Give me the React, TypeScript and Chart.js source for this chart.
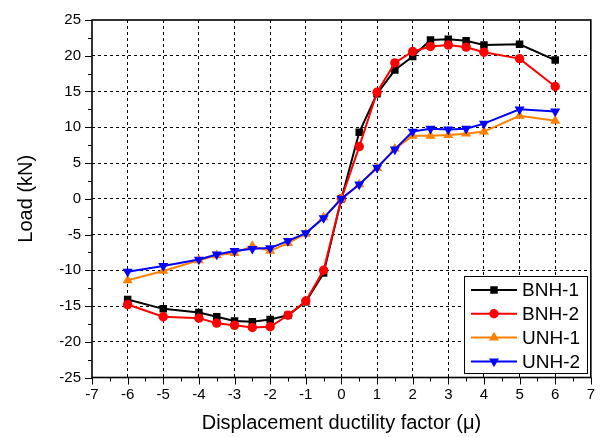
import React, { useEffect, useRef } from "react";
import { Chart, registerables } from "chart.js";

Chart.register(...registerables);

// Displacement ductility factor steps
const ductility = [-6, -5, -4, -3.5, -3, -2.5, -2, -1.5, -1, -0.5, 0, 0.5, 1, 1.5, 2, 2.5, 3, 3.5, 4, 5, 6];

// Load (kN) per specimen
const bnh1 = [-14.1, -15.4, -15.9, -16.5, -17.1, -17.2, -16.9, -16.3, -14.4, -10.4, 0, 9.3, 14.7, 18.0, 19.9, 22.2, 22.3, 22.1, 21.5, 21.6, 19.4];
const bnh2 = [-14.8, -16.5, -16.7, -17.4, -17.7, -18.0, -17.9, -16.3, -14.3, -10.0, 0, 7.3, 14.9, 19.0, 20.6, 21.3, 21.5, 21.2, 20.5, 19.6, 15.7];
const unh1 = [-11.4, -10.1, -8.6, -7.9, -7.6, -6.6, -7.3, -6.2, -4.9, -2.6, 0, 2.0, 4.3, 7.0, 8.8, 8.8, 8.9, 9.1, 9.4, 11.6, 10.9];
const unh2 = [-10.2, -9.4, -8.5, -7.8, -7.3, -7.0, -6.9, -5.9, -4.8, -2.7, 0, 2.0, 4.35, 6.9, 9.4, 9.8, 9.7, 9.8, 10.5, 12.5, 12.2];

const seriesNames = ["BNH-1", "BNH-2", "UNH-1", "UNH-2"];
const seriesValues = [bnh1, bnh2, unh1, unh2];
const seriesColors = ["#000000", "#ff0000", "#ff8000", "#0000ff"];
const seriesMarkers = ["square", "circle", "triangleUp", "triangleDown"];

const xTitle = "Displacement ductility factor (\u03bc)";
const yTitle = "Load (kN)";

const FONT = "'Liberation Sans', Arial, Helvetica, sans-serif";

function markerStyle(kind: string) {
  if (kind === "square") return { pointStyle: "rect", pointRadius: 5.3, pointRotation: 0 };
  if (kind === "circle") return { pointStyle: "circle", pointRadius: 4.7, pointRotation: 0 };
  if (kind === "triangleUp") return { pointStyle: "triangle", pointRadius: 5.8, pointRotation: 0 };
  return { pointStyle: "triangle", pointRadius: 5.8, pointRotation: 180 };
}

function drawMarker(ctx: CanvasRenderingContext2D, kind: string, x: number, y: number, color: string) {
  ctx.fillStyle = color;
  ctx.beginPath();
  if (kind === "square") {
    ctx.rect(x - 3.75, y - 3.75, 7.5, 7.5);
  } else if (kind === "circle") {
    ctx.arc(x, y, 4.7, 0, Math.PI * 2);
  } else if (kind === "triangleUp") {
    ctx.moveTo(x, y - 5.8);
    ctx.lineTo(x + 5, y + 2.9);
    ctx.lineTo(x - 5, y + 2.9);
    ctx.closePath();
  } else {
    ctx.moveTo(x, y + 5.8);
    ctx.lineTo(x + 5, y - 2.9);
    ctx.lineTo(x - 5, y - 2.9);
    ctx.closePath();
  }
  ctx.fill();
}

const isMajorX = (v: number) => Math.abs(v - Math.round(v)) < 1e-6;
const isMajorY = (v: number) => Math.abs(v / 5 - Math.round(v / 5)) < 1e-6;

// Tick marks, frame, axis titles and the in-plot legend
const framePlugin = {
  id: "frameAndLegend",
  afterDraw(chart: any) {
    const { ctx, chartArea: a, scales } = chart;
    ctx.save();
    ctx.strokeStyle = "#000";
    ctx.lineWidth = 1;

    scales.x.ticks.forEach((t: any) => {
      const px = Math.round(scales.x.getPixelForValue(t.value)) + 0.5;
      const len = isMajorX(t.value) ? 7 : 4;
      ctx.beginPath();
      ctx.moveTo(px, a.bottom);
      ctx.lineTo(px, a.bottom + len);
      ctx.stroke();
    });
    scales.y.ticks.forEach((t: any) => {
      const py = Math.round(scales.y.getPixelForValue(t.value)) + 0.5;
      const len = isMajorY(t.value) ? 7 : 4;
      ctx.beginPath();
      ctx.moveTo(a.left, py);
      ctx.lineTo(a.left - len, py);
      ctx.stroke();
    });

    ctx.lineWidth = 1.6;
    ctx.strokeRect(a.left, a.top, a.right - a.left, a.bottom - a.top);

    // axis titles
    ctx.fillStyle = "#000";
    ctx.font = `20px ${FONT}`;
    ctx.textAlign = "center";
    ctx.textBaseline = "middle";
    ctx.fillText(xTitle, (a.left + a.right) / 2, 423);
    ctx.save();
    ctx.translate(26, (a.top + a.bottom) / 2);
    ctx.rotate(-Math.PI / 2);
    ctx.fillText(yTitle, 0, 0);
    ctx.restore();

    // legend box
    const bx = 464, by = 276, bw = 123, bh = 97;
    ctx.fillStyle = "#fff";
    ctx.fillRect(bx, by, bw, bh);
    ctx.lineWidth = 1;
    ctx.strokeStyle = "#000";
    ctx.strokeRect(bx + 0.5, by + 0.5, bw, bh);
    ctx.textAlign = "left";
    ctx.font = `19px ${FONT}`;
    seriesNames.forEach((name, i) => {
      const y = 290 + i * 23.8;
      ctx.strokeStyle = seriesColors[i];
      ctx.lineWidth = 2;
      ctx.beginPath();
      ctx.moveTo(471, y);
      ctx.lineTo(517, y);
      ctx.stroke();
      drawMarker(ctx, seriesMarkers[i], 494, y, seriesColors[i]);
      ctx.fillStyle = "#000";
      ctx.fillText(name, 522, y + 1);
    });
    ctx.restore();
  },
};

export default function App() {
  const canvasRef = useRef<HTMLCanvasElement | null>(null);

  useEffect(() => {
    const canvas = canvasRef.current;
    if (!canvas) return;

    const datasets = seriesNames.map((name, i) => ({
      label: name,
      data: ductility.map((x, j) => ({ x, y: seriesValues[i][j] })),
      borderColor: seriesColors[i],
      backgroundColor: seriesColors[i],
      pointBackgroundColor: seriesColors[i],
      pointBorderColor: seriesColors[i],
      pointBorderWidth: 0,
      borderWidth: 2,
      tension: 0,
      order: seriesNames.length - i,
      ...markerStyle(seriesMarkers[i]),
    }));

    const gridColor = (major: (v: number) => boolean, lo: number, hi: number) => (c: any) => {
      const v = c.tick ? c.tick.value : 0;
      if (!major(v) || v <= lo || v >= hi) return "rgba(0,0,0,0)";
      return "#000";
    };

    const chart = new Chart(canvas, {
      type: "line",
      data: { datasets: datasets as any },
      plugins: [framePlugin],
      options: {
        animation: false,
        responsive: false,
        maintainAspectRatio: false,
        layout: { padding: { left: 0, right: 11, top: 15.5, bottom: 0 } },
        plugins: {
          legend: { display: false },
          tooltip: { enabled: false },
        },
        scales: {
          x: {
            type: "linear",
            min: -7,
            max: 7,
            afterFit: (s: any) => {
              s.height = 59.5;
            },
            ticks: {
              stepSize: 0.5,
              autoSkip: false,
              maxRotation: 0,
              padding: 8,
              color: "#000",
              font: { family: FONT, size: 15 },
              callback: (v: any) => (isMajorX(Number(v)) ? String(Math.round(Number(v))) : ""),
            },
            grid: {
              drawTicks: false,
              lineWidth: 1,
              color: gridColor(isMajorX, -7, 7),
            },
            border: { display: false, dash: [3, 3] },
          },
          y: {
            type: "linear",
            min: -25,
            max: 25,
            afterFit: (s: any) => {
              s.width = 92;
            },
            ticks: {
              stepSize: 2.5,
              autoSkip: false,
              padding: 11,
              color: "#000",
              font: { family: FONT, size: 15 },
              callback: (v: any) => (isMajorY(Number(v)) ? String(Math.round(Number(v))) : ""),
            },
            grid: {
              drawTicks: false,
              lineWidth: 1,
              color: gridColor(isMajorY, -25, 25),
            },
            border: { display: false, dash: [3, 3] },
          },
        },
      } as any,
    });

    return () => chart.destroy();
  }, []);

  return (
    <div style={{ position: "fixed", left: 0, top: 0, width: 603, height: 437, background: "#fff" }}>
      <canvas ref={canvasRef} width={603} height={437} style={{ display: "block", width: 603, height: 437 }} />
    </div>
  );
}
